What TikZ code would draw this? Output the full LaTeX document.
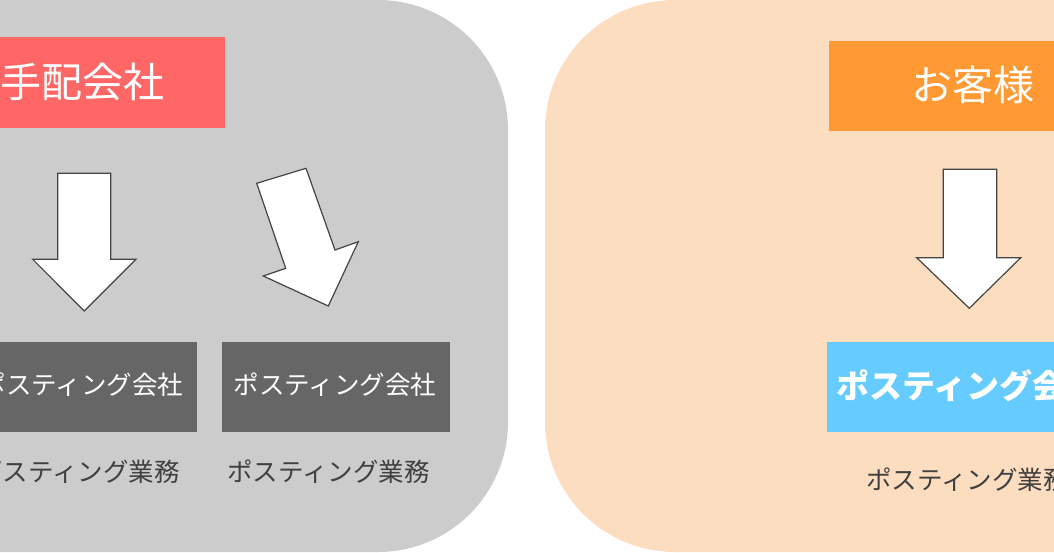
\documentclass[tikz,border=0pt]{standalone}
\usepackage{fontspec}
\newfontfamily\jp{Noto Sans CJK JP}
\definecolor{panelgray}{HTML}{CCCCCC}
\definecolor{panelpeach}{HTML}{FDDDBF}
\definecolor{boxred}{HTML}{FF6666}
\definecolor{boxgray}{HTML}{666666}
\definecolor{boxorange}{HTML}{FF9933}
\definecolor{boxblue}{HTML}{66CCFF}
\definecolor{labelgray}{HTML}{404040}
\definecolor{arrowline}{HTML}{444444}
\tikzset{
  blockarrow/.style={fill=white, draw=arrowline, line width=1.2pt, line join=miter},
  bigtxt/.style={text=white, font=\jp\fontsize{41}{45}\selectfont, inner sep=0pt},
  midtxt/.style={text=white, font=\jp\fontsize{25.5}{30}\selectfont, inner sep=0pt},
  bluetxt/.style={text=white, font=\jp\bfseries\fontsize{33}{37}\selectfont, inner sep=0pt},
  lbltxt/.style={text=labelgray, font=\jp\fontsize{25.5}{30}\selectfont, inner sep=0pt},
}
\begin{document}
\begin{tikzpicture}[x=1pt,y=-1pt]
\useasboundingbox (0,0) rectangle (1054,552);
\clip (0,0) rectangle (1054,552);
% panels
\fill[panelgray, rounded corners=130pt] (-300,0) rectangle (508,552);
\fill[panelpeach, rounded corners=130pt] (545,0) rectangle (1400,552);
% boxes
\fill[boxred] (-60,37) rectangle (225,128);
\fill[boxgray] (-31,342) rectangle (197,432);
\fill[boxgray] (222,342) rectangle (450,432);
\fill[boxorange] (829,41) rectangle (1100,131);
\fill[boxblue] (827,342) rectangle (1100,432);
% texts
\node[bigtxt] (tehai) at (83,82) {手配会社};
\node[midtxt] (post1) at (82,385) {ポスティング会社};
\node[midtxt] (post2) at (335,385) {ポスティング会社};
\node[lbltxt] (gyomu1) at (78.5,472) {ポスティング業務};
\node[lbltxt] (gyomu2) at (328.5,472) {ポスティング業務};
\node[bigtxt] (kyaku) at (973,85) {お客様};
\node[bluetxt, anchor=west] (post3) at (836,386) {ポスティング会社};
\node[lbltxt, anchor=west] (gyomu3) at (866,480) {ポスティング業務};
% block arrows
\draw[blockarrow] (57.7,173.3) -- (110.7,173.3) -- (110.7,259.3) -- (136,259.3)
  -- (84.3,311) -- (32.7,259.3) -- (57.7,259.3) -- cycle;
\draw[blockarrow] (256.7,183.3) -- (306,168.3) -- (335,250) -- (358.3,241.7)
  -- (328.3,306) -- (263.3,276) -- (285.7,268.3) -- cycle;
\draw[blockarrow] (943.3,169.3) -- (996.7,169.3) -- (996.7,257.7) -- (1020.7,257.7)
  -- (969.3,308.3) -- (916.7,257.7) -- (943.3,257.7) -- cycle;
\end{tikzpicture}
\end{document}
